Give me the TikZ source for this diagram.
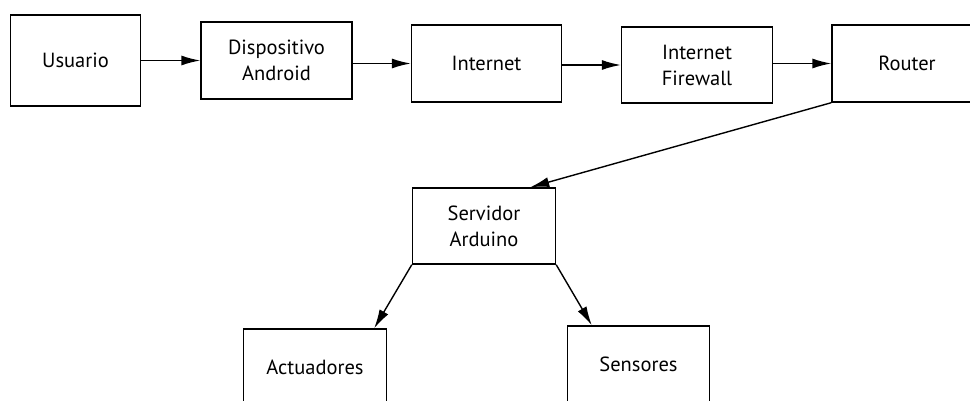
\documentclass[tikz,border=0pt]{standalone}
\usepackage{fontspec}
\setmainfont{PT Sans}
\usetikzlibrary{arrows.meta}
\begin{document}
\begin{tikzpicture}[node distance=210pt,>={Latex[length=19pt,width=10pt]},line width=1.4pt]

  \tikzstyle{place}=[rectangle,draw=black,fill=white,align=center,font=\fontsize{20.5}{26}\selectfont]
  \tikzstyle{texto}=[]

  \useasboundingbox (-75.5pt,60.5pt) rectangle (894.5pt,-340.5pt);

  \begin{scope}

    \node [place,minimum width=130pt,minimum height=91pt] (t1) {Usuario};

    \node [place,minimum width=151pt,minimum height=77pt] (t2) [right of=t1,xshift=-9pt] {Dispositivo\\Android}
    edge [<-] (t1.east |- t2);

    \node [place,minimum width=150pt,minimum height=77pt] (t3) [right of=t2,yshift=-3pt] {Internet}
    edge [<-] (t2.east |- t3);

    \node [place,minimum width=151pt,minimum height=76pt] (t4) [right of=t3,xshift=0.5pt,yshift=-1.5pt] {Internet\\Firewall}
    edge [<-] (t3.east |- t4);

    \node [place,minimum width=150pt,minimum height=77pt] (t5) [right of=t4,yshift=1.5pt] {Router}
    edge [<-] (t4.east |- t5);

    \node [place,minimum width=143pt,minimum height=76pt] (t6) [below of=t3,xshift=-2.5pt,yshift=47.5pt] {Servidor\\Arduino};

    \node [place,minimum width=143pt,minimum height=77pt] (t7) [below of=t6,xshift=-169pt,yshift=68.5pt] {Actuadores};

    \node [place,minimum width=142pt,minimum height=77pt] (t8) [below of=t6,xshift=154.5pt,yshift=71.5pt] {Sensores};

    \draw [->] (t5.south west) -- ([xshift=-26pt]t6.north east);
    \draw [->] (t6.south west) -- ([xshift=-13pt]t7.north east);
    \draw [->] (t6.south east) -- ([xshift=25pt]t8.north west);

  \end{scope}

\end{tikzpicture}
\end{document}
